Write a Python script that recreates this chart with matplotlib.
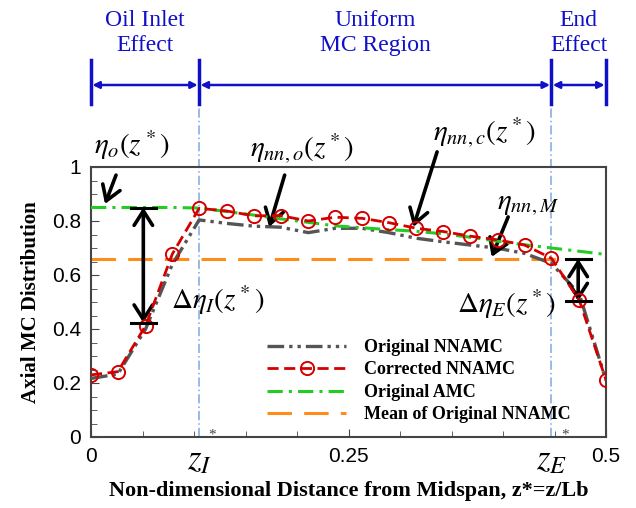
import numpy as np
import matplotlib
matplotlib.use("Agg")
import matplotlib.pyplot as plt
from matplotlib.transforms import blended_transform_factory

plt.rcParams['font.family'] = ['Liberation Serif', 'DejaVu Serif']
plt.rcParams['mathtext.fontset'] = 'stix'

# values
z = [0.0, 0.026, 0.053, 0.079, 0.105, 0.132, 0.158, 0.184, 0.211, 0.237,
     0.263, 0.289, 0.316, 0.342, 0.368, 0.395, 0.421, 0.447, 0.474, 0.5]
original_nnamc = [0.217, 0.233, 0.40, 0.64, 0.804, 0.791, 0.781, 0.777, 0.757, 0.773,
                  0.773, 0.757, 0.736, 0.723, 0.711, 0.699, 0.680, 0.643, 0.53, 0.21]
corrected_nnamc = [0.230, 0.242, 0.412, 0.678, 0.847, 0.837, 0.819, 0.820, 0.800, 0.814,
                   0.810, 0.794, 0.773, 0.761, 0.744, 0.730, 0.711, 0.662, 0.507, 0.211]
original_amc = [0.85, 0.85, 0.85, 0.85, 0.848, 0.835, 0.822, 0.808, 0.795, 0.782,
                0.775, 0.768, 0.762, 0.752, 0.740, 0.725, 0.712, 0.700, 0.688, 0.676]
mean_nnamc = 0.66
z_inlet = 0.105
z_end = 0.447

legend_labels = ['Original NNAMC', 'Corrected NNAMC', 'Original AMC', 'Mean of Original NNAMC']
region_labels = ['Oil Inlet\nEffect', 'Uniform\nMC Region', 'End\nEffect']
region_edges = [0.0, z_inlet, z_end, 0.5]

SERIF = ['Liberation Serif', 'DejaVu Serif']
W, H = 636, 508
fig = plt.figure(figsize=(W / 100, H / 100), dpi=100)
ax = fig.add_axes([91 / W, 1 - 437 / H, 515 / W, 270 / H])

def fy(py):
    return 1 - py / H

ax.axhline(mean_nnamc, color='#ff8c1a', lw=2.2, ls=(0, (8, 4)), label=legend_labels[3], zorder=2)
ax.plot(z, original_nnamc, color='#555555', lw=2.4, ls=(0, (5, 1.5, 1, 1.5, 1, 1.5)),
        label=legend_labels[0], zorder=3)
ax.plot(z, original_amc, color='#22cc22', lw=2.2, ls=(0, (5, 2, 1, 2)),
        label=legend_labels[2], zorder=4)
ax.plot(z, corrected_nnamc, color='#d40000', lw=2, ls=(0, (4, 2)), marker='o',
        ms=9.5, mfc='none', mec='#d40000', mew=1.4, label=legend_labels[1], zorder=5)

# region boundaries
for zz in (z_inlet, z_end):
    ax.axvline(zz, ymin=0, ymax=(437 - 104) / 270, color='#7fa8dc', lw=1.1,
               ls=(0, (6, 2, 1, 2)), clip_on=False, zorder=1)

ax.set_xlim(0, 0.5)
ax.set_ylim(0, 1)
ax.set_xticks([0, 0.25, 0.5])
ax.set_xticklabels(['0', '0.25', '0.5'])
ax.set_xticks(np.arange(0, 0.501, 0.05), minor=True)
ax.set_yticks(np.arange(0, 1.01, 0.2))
ax.set_yticklabels(['0', '0.2', '0.4', '0.6', '0.8', '1'])
ax.set_yticks(np.arange(0, 1.001, 0.05), minor=True)
ax.tick_params(which='both', direction='in', color='#444444', top=False, right=False)
ax.tick_params(which='major', length=6, labelsize=15, pad=7)
ax.tick_params(which='minor', length=4)
for lab in ax.get_xticklabels() + ax.get_yticklabels():
    lab.set_family(['Liberation Sans', 'DejaVu Sans'])
for sp in ax.spines.values():
    sp.set_color('#444444')
    sp.set_linewidth(1.5)

ax.set_xlabel('Non-dimensional Distance from Midspan, z*=z/Lb', fontsize=16,
              fontweight='bold', family=SERIF, labelpad=11)
ax.set_ylabel('Axial MC Distribution', fontsize=15, fontweight='bold', family=SERIF, labelpad=8)

# z_I and z_E labels on the x axis
for zz, name in ((z_inlet, r'$z_I$'), (z_end, r'$z_E$')):
    ax.text(zz, -0.025, name, fontsize=25, ha='center', va='top')
    ax.text(zz + 0.013, -0.0075, '*', fontsize=11, color='#444444', ha='center', va='baseline')

# curve annotations
black_arrow = dict(arrowstyle='->,head_length=0.55,head_width=0.35', color='black',
                   lw=2.6, mutation_scale=19, shrinkA=0, shrinkB=0)
ax.text(0.040, 1.081, r'$\eta_o(z^*)$', fontsize=21, ha='center', va='center')
ax.annotate('', xy=(0.0136, 0.863), xytext=(0.0243, 0.970), arrowprops=black_arrow)
ax.text(0.205, 1.067, r'$\eta_{nn,o}(z^*)$', fontsize=21, ha='center', va='center')
ax.annotate('', xy=(0.173, 0.778), xytext=(0.188, 0.970), arrowprops=black_arrow)
ax.text(0.382, 1.126, r'$\eta_{nn,c}(z^*)$', fontsize=21, ha='center', va='center')
ax.annotate('', xy=(0.313, 0.778), xytext=(0.336, 1.056), arrowprops=black_arrow,
            annotation_clip=False)
ax.text(0.424, 0.859, r'$\eta_{nn,M}$', fontsize=21, ha='center', va='center')
ax.annotate('', xy=(0.389, 0.667), xytext=(0.405, 0.815), arrowprops=black_arrow)

# differences
dbl_arrow = dict(arrowstyle='<->,head_length=0.55,head_width=0.35', color='black',
                 lw=2.6, mutation_scale=19, shrinkA=0, shrinkB=0)
for xa, top, bot, half in ((0.0508, 0.85, 0.423, 0.012), (0.473, 0.66, 0.503, 0.012)):
    ax.annotate('', xy=(xa, bot), xytext=(xa, top), arrowprops=dbl_arrow)
    ax.plot([xa - half, xa + half], [top, top], color='black', lw=2.2, zorder=6)
    ax.plot([xa - half, xa + half], [bot, bot], color='black', lw=2.2, zorder=6)
ax.text(0.123, 0.507, r'$\Delta\eta_I(z^*)$', fontsize=21, ha='center', va='center')
ax.text(0.403, 0.493, r'$\Delta\eta_E(z^*)$', fontsize=21, ha='center', va='center')

# legend
handles, labels = ax.get_legend_handles_labels()
order = [labels.index(l) for l in legend_labels]
ax.legend([handles[i] for i in order], [labels[i] for i in order],
          loc='upper left', bbox_to_anchor=(267 / W, fy(339)), bbox_transform=fig.transFigure,
          frameon=False, borderpad=0, borderaxespad=0, handlelength=4.4,
          handletextpad=0.95, labelspacing=0.3, numpoints=1,
          prop=dict(family=SERIF, weight='bold', size=13))

# region brackets above the plot
blue = '#1010c8'
tr = blended_transform_factory(ax.transData, fig.transFigure)
for xe in region_edges:
    ax.plot([xe, xe], [fy(60), fy(104)], color=blue, lw=2.5, transform=tr, clip_on=False)
for i, lab in enumerate(region_labels):
    x0, x1 = region_edges[i], region_edges[i + 1]
    ax.annotate('', xy=(x1, fy(85)), xytext=(x0, fy(85)), xycoords=tr, textcoords=tr,
                arrowprops=dict(arrowstyle='<|-|>', color=blue, lw=1.8, mutation_scale=10,
                                shrinkA=1, shrinkB=1))
    ax.text((x0 + x1) / 2, fy(33), lab, transform=tr, ha='center', va='center',
            fontsize=17, family=SERIF, color=blue, linespacing=1.3)

fig.savefig('out.png', dpi=100)
